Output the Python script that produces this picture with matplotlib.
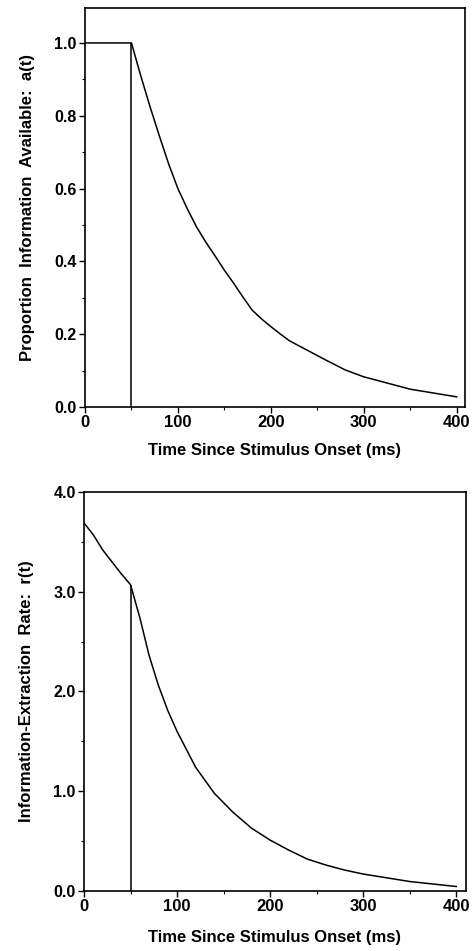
import matplotlib
matplotlib.use("Agg")
import matplotlib.pyplot as plt
from matplotlib.ticker import MultipleLocator

plt.rcParams["font.family"] = ["Liberation Sans", "DejaVu Sans"]
plt.rcParams["font.weight"] = "bold"

# === Data: top panel, proportion information available a(t) ===
t_avail = [0, 50, 60, 70, 80, 90, 100, 110, 120, 130, 140, 150, 160, 170, 180, 190, 200, 210,
           220, 240, 260, 280, 300, 350, 400]
a_avail = [1.0, 1.0, 0.91, 0.825, 0.745, 0.668, 0.60, 0.545, 0.495, 0.453, 0.415, 0.376, 0.34,
           0.302, 0.266, 0.242, 0.221, 0.201, 0.182, 0.155, 0.128, 0.102, 0.083, 0.049, 0.028]

# === Data: bottom panel, information-extraction rate r(t) ===
t_rate = [0, 10, 20, 30, 40, 50, 60, 70, 80, 90, 100, 120, 140, 160, 180, 200, 220, 240, 260,
          280, 300, 350, 400]
r_rate = [3.69, 3.57, 3.42, 3.30, 3.18, 3.07, 2.74, 2.36, 2.06, 1.81, 1.60, 1.24, 0.98, 0.79,
          0.63, 0.51, 0.41, 0.32, 0.26, 0.21, 0.17, 0.095, 0.045]

onset = 50  # stimulus offset marker

fig = plt.figure(figsize=(4.74, 9.51), dpi=100)
ax1 = fig.add_axes([0.1793, 0.572, 0.8017, 0.4196])
ax2 = fig.add_axes([0.1772, 0.0631, 0.8059, 0.4196])


def style(ax, xmax, ymax, ymajor, yminor, xpad):
    ax.set_xlim(0, xmax)
    ax.set_ylim(0, ymax)
    ax.xaxis.set_major_locator(MultipleLocator(100))
    ax.xaxis.set_minor_locator(MultipleLocator(50))
    ax.yaxis.set_major_locator(MultipleLocator(ymajor))
    ax.yaxis.set_minor_locator(MultipleLocator(yminor))
    ax.yaxis.set_major_formatter("{x:.1f}")
    ax.tick_params(which="major", direction="out", length=4, width=1)
    ax.tick_params(which="minor", direction="out", length=2, width=0.8)
    ax.tick_params(axis="x", labelsize=12, pad=2)
    ax.tick_params(axis="y", labelsize=11.5, pad=2)
    for s in ax.spines.values():
        s.set_linewidth(1.2)
    ax.set_xlabel("Time Since Stimulus Onset (ms)", fontsize=12, fontweight="bold", labelpad=xpad)


ax1.plot(t_avail, a_avail, color="black", lw=1.1)
ax1.vlines(onset, 0, 1.0, color="black", lw=1.1)
style(ax1, 409, 1.096, 0.2, 0.1, 9)
ax1.set_ylabel("Proportion  Information  Available:  a(t)", fontsize=12, fontweight="bold",
               labelpad=14)

ax2.plot(t_rate, r_rate, color="black", lw=1.1)
ax2.vlines(onset, 0, r_rate[t_rate.index(onset)], color="black", lw=1.1)
style(ax2, 410.5, 4.0, 1.0, 0.5, 11)
ax2.set_ylabel("Information-Extraction  Rate:  r(t)", fontsize=12, fontweight="bold",
               labelpad=14)

plt.savefig("out.png", dpi=100)
plt.close()
